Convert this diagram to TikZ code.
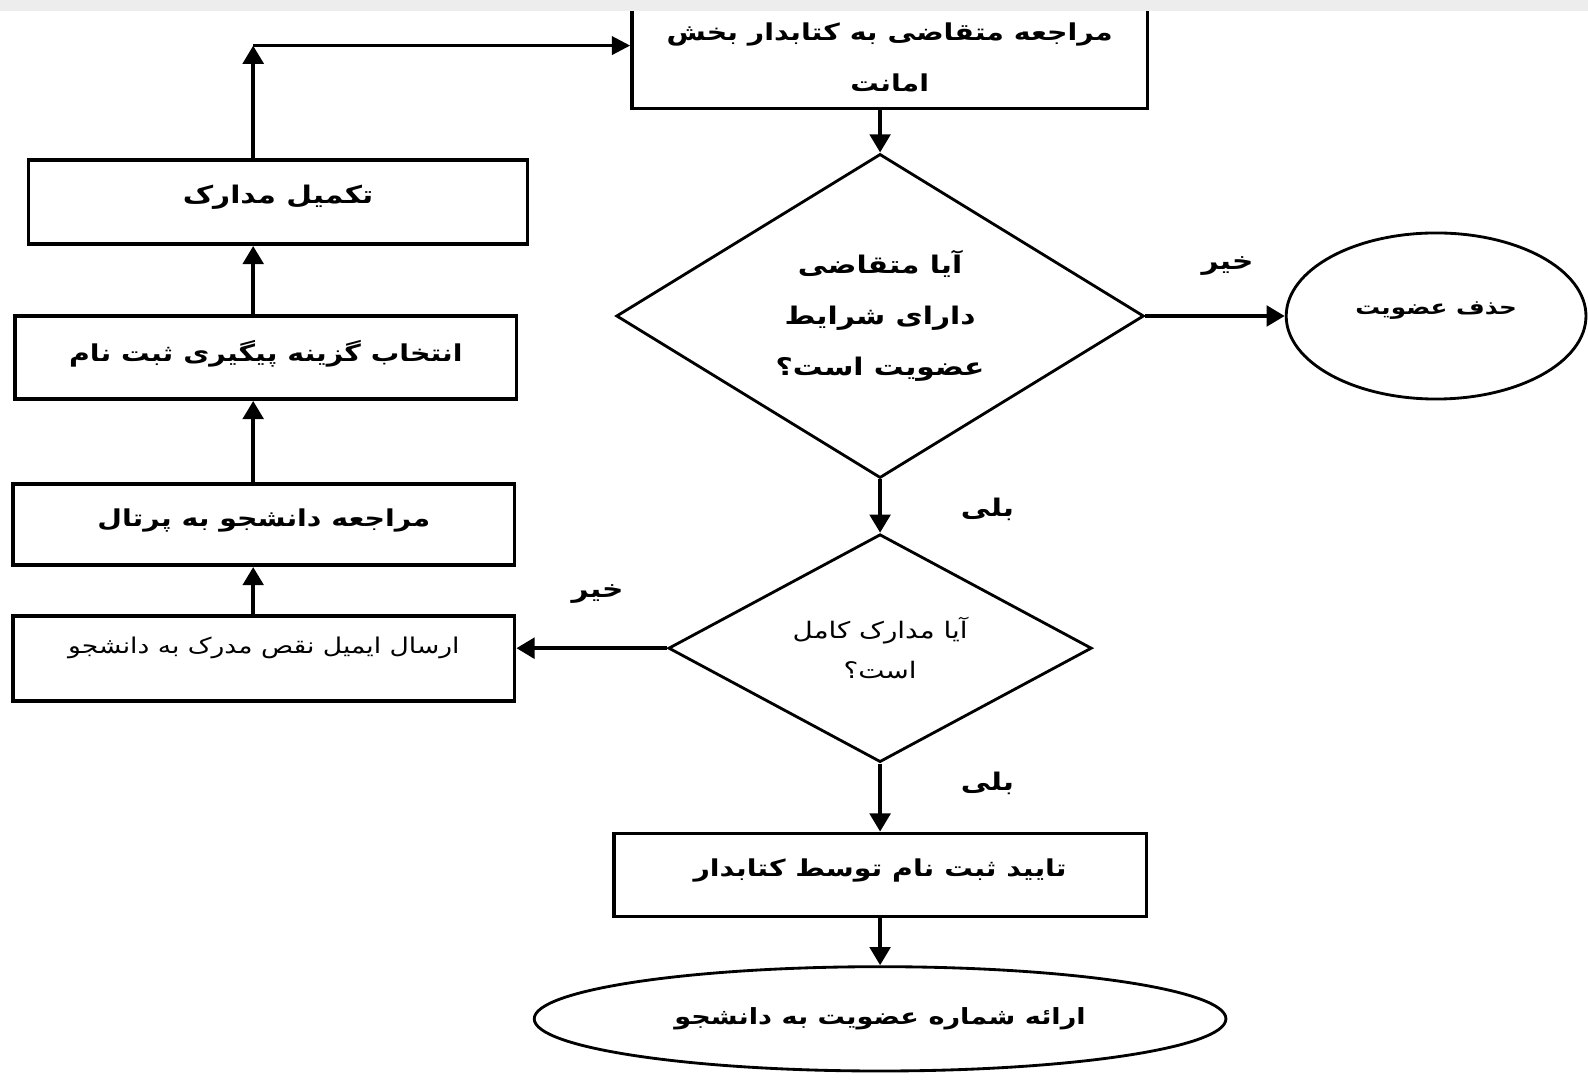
\documentclass[tikz,border=0pt]{standalone}
\usepackage{fontspec}
\newfontfamily\arb[Script=Arabic,FakeStretch=1.22]{DejaVu Sans}
\TeXXeTstate=1
\usetikzlibrary{shapes.geometric,arrows.meta}
\newcommand{\rtl}[1]{\beginR #1\endR}
\newcommand{\up}[2]{\raisebox{#1}[\height][\depth]{#2}}
\begin{document}
\begin{tikzpicture}[x=1pt,y=-1pt,
  bigtxt/.style={font=\arb\bfseries\fontsize{23}{50}\selectfont},
  smalltxt/.style={font=\arb\fontsize{21.5}{40}\selectfont},
  box/.style={draw,line width=3.6pt,rectangle,inner sep=0pt,align=center,bigtxt},
  dec/.style={draw,line width=2.8pt,diamond,inner sep=0pt,align=center},
  term/.style={draw,line width=2.8pt,ellipse,inner sep=0pt,align=center,bigtxt},
  arr/.style={line width=4.4pt,-{Triangle[length=18pt,width=20pt]}},
  thinarr/.style={line width=3pt,-{Triangle[length=18pt,width=18pt]}},
  lbl/.style={inner sep=0pt,font=\arb\bfseries\fontsize{24}{28}\selectfont}
]
\useasboundingbox (0,0) rectangle (1568,1072);
\fill[white] (0,0) rectangle (1568,1072);

% right column
\node[box, minimum width=509pt, minimum height=101pt] (req) at (878.5,56.5)
  {\rtl{مراجعه متقاضی به کتابدار بخش}\\\rtl{امانت}};
\node[dec, bigtxt, font=\arb\bfseries\fontsize{24}{50}\selectfont, aspect=1.6, minimum width=521pt, minimum height=320pt] (q1) at (869,312)
  {\rtl{آیا متقاضی}\\\rtl{دارای شرایط}\\\rtl{عضویت است؟}};
\node[term, font=\arb\bfseries\fontsize{20}{30}\selectfont, minimum width=296pt, minimum height=164pt] (del) at (1418,312)
  {\up{5pt}{\rtl{حذف عضویت}}};
\node[dec, smalltxt, font=\arb\fontsize{22.5}{40}\selectfont, aspect=1.86, minimum width=418pt, minimum height=225pt] (q2) at (869,640)
  {\rtl{آیا مدارک کامل}\\\rtl{است؟}};
\node[box, minimum width=526pt, minimum height=82pt] (conf) at (869,864)
  {\up{4pt}{\rtl{تایید ثبت نام توسط کتابدار}}};
\node[term, font=\arb\bfseries\fontsize{22}{30}\selectfont, minimum width=683pt, minimum height=103pt] (give) at (869,1006)
  {\rtl{ارائه شماره عضویت به دانشجو}};

% left column
\node[box, font=\arb\bfseries\fontsize{24}{30}\selectfont, minimum width=493pt, minimum height=83pt] (tkm) at (274.5,199.5)
  {\up{5pt}{\rtl{تکمیل مدارک}}};
\node[box, minimum width=495pt, minimum height=82pt] (ent) at (262.5,353)
  {\up{4pt}{\rtl{انتخاب گزینه پیگیری ثبت نام}}};
\node[box, minimum width=495pt, minimum height=80pt] (mdp) at (260.5,518)
  {\up{4pt}{\rtl{مراجعه دانشجو به پرتال}}};
\node[box, smalltxt, minimum width=495pt, minimum height=84pt] (ers) at (260.5,650)
  {\up{10pt}{\rtl{ارسال ایمیل نقص مدرک به دانشجو}}};

\coordinate (col) at (250,0);
\coordinate (corner) at (250,45);

% connectors
\draw[arr] (req.south -| q1.north) -- (q1.north);
\draw[arr] (q1.east) -- (del.west);
\draw[arr] (q1.south) -- (q2.north);
\draw[arr] (q2.west) -- (q2.west -| ers.east);
\draw[arr] (q2.south) -- (conf.north);
\draw[arr] (conf.south) -- (give.north);
\draw[arr] (ers.north -| col) -- (mdp.south -| col);
\draw[arr] (mdp.north -| col) -- (ent.south -| col);
\draw[arr] (ent.north -| col) -- (tkm.south -| col);
\draw[arr] (tkm.north -| col) -- (corner);
\draw[thinarr] (corner) -- (corner -| req.west);

% edge labels
\node[lbl] (no1) at (1212,263) {\rtl{خیر}};
\node[lbl] (yes1) at (975,503) {\rtl{بلی}};
\node[lbl] (no2) at (590,587) {\rtl{خیر}};
\node[lbl] (yes2) at (975,773) {\rtl{بلی}};

% top band
\fill[black!7] (0,0) rectangle (1568,11);
\end{tikzpicture}
\end{document}
